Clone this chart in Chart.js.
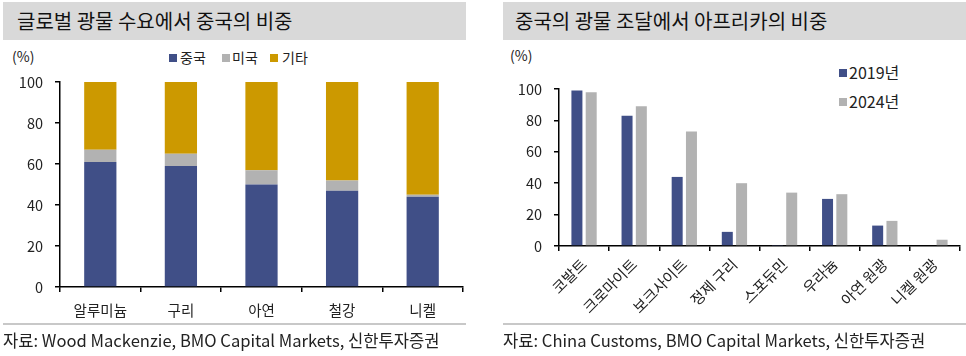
<!DOCTYPE html>
<html><head><meta charset="utf-8">
<script src="https://cdn.jsdelivr.net/npm/chart.js@4.4.1/dist/chart.umd.min.js"></script>
<style>
body{margin:0;width:966px;height:356px;position:relative;background:#fff;font-family:'Noto Sans CJK KR','Noto Sans',sans-serif;color:#222;overflow:hidden}
.tbar{position:absolute;top:2px;height:38px;background:#d9d9d9}
.ttl{position:absolute;font-size:20px;line-height:38px;top:2px;white-space:nowrap;color:#111}
.unit{position:absolute;font-size:14px;line-height:18px}
.fline{position:absolute;top:323px;height:2px;background:#c8c8c8}
.foot{position:absolute;top:329px;font-size:16.6px;line-height:22px;white-space:nowrap}
.leg{position:absolute;font-size:14px;line-height:18px;white-space:nowrap}
.sw{position:absolute;width:8px;height:8px}
.cw{position:absolute}
</style></head><body>
<div class="tbar" style="left:3px;width:463px"></div>
<div class="ttl" style="left:17px">글로벌 광물 수요에서 중국의 비중</div>
<div class="tbar" style="left:503px;width:463px"></div>
<div class="ttl" style="left:515px">중국의 광물 조달에서 아프리카의 비중</div>

<div class="unit" style="left:12px;top:47px">(%)</div>
<div class="unit" style="left:510px;top:46px">(%)</div>

<div class="sw" style="left:169px;top:54px;background:#404f87"></div>
<div class="leg" style="left:180px;top:48px">중국</div>
<div class="sw" style="left:222px;top:54px;background:#b2b2b2"></div>
<div class="leg" style="left:232px;top:48px">미국</div>
<div class="sw" style="left:270px;top:54px;background:#cc9900"></div>
<div class="leg" style="left:282px;top:48px">기타</div>

<div class="sw" style="left:839px;top:69px;background:#404f87"></div>
<div class="leg" style="left:849px;top:63px;font-size:16px">2019년</div>
<div class="sw" style="left:839px;top:98px;background:#b2b2b2"></div>
<div class="leg" style="left:849px;top:92px;font-size:16px">2024년</div>

<div class="cw" style="left:0;top:44px;width:480px;height:280px"><canvas id="c1" width="480" height="280"></canvas></div>
<div class="cw" style="left:490px;top:44px;width:476px;height:280px"><canvas id="c2" width="476" height="280"></canvas></div>

<div class="fline" style="left:3px;width:463px"></div>
<div class="foot" style="left:3px">자료: Wood Mackenzie, BMO Capital Markets, 신한투자증권</div>
<div class="fline" style="left:503px;width:463px"></div>
<div class="foot" style="left:503px">자료: China Customs, BMO Capital Markets, 신한투자증권</div>

<script>
const leftCategories = ['알루미늄','구리','아연','철강','니켈'];
const chinaShare = [61,59,50,47,44];
const usShare = [6,6,7,5,1];
const otherShare = [33,35,43,48,55];

const rightCategories = ['코발트','크로마이트','보크사이트','정제 구리','스포듀민','우라늄','아연 원광','니켈 원광'];
const share2019 = [99,83,44,9,0.3,30,13,0];
const share2024 = [98,89,73,40,34,33,16,4];

const yTicks = [0,20,40,60,80,100];

const NAVY='#404f87', GREY='#b2b2b2', GOLD='#cc9900';
Chart.defaults.font.family="'Noto Sans CJK KR','Noto Sans',sans-serif";
Chart.defaults.color='#222';
Chart.defaults.animation=false;

function yScale(w, stacked){
  return {stacked:stacked,min:0,max:100,
    afterBuildTicks:s=>{s.ticks=yTicks.map(v=>({value:v}));},
    ticks:{color:'#222',font:{size:14.5},padding:12},
    grid:{drawOnChartArea:false,tickLength:5,color:'#000',lineWidth:1.5},
    border:{color:'#000',width:1.5},
    afterFit:s=>{s.width=w;}};
}
function xScale(h, stacked, rot, pad, fs){
  return {stacked:stacked,
    ticks:{color:'#222',font:{size:fs},padding:pad,minRotation:rot,maxRotation:rot,autoSkip:false},
    grid:{offset:true,drawOnChartArea:false,tickLength:5,color:'#000',lineWidth:1.5},
    border:{color:'#000',width:1.5},
    afterFit:s=>{s.height=h;}};
}

new Chart(document.getElementById('c1'),{
  type:'bar',
  data:{labels:leftCategories,datasets:[
    {label:'중국',data:chinaShare,backgroundColor:NAVY},
    {label:'미국',data:usShare,backgroundColor:GREY},
    {label:'기타',data:otherShare,backgroundColor:GOLD}
  ]},
  options:{responsive:false,
    layout:{padding:{left:0,right:17,top:38,bottom:2}},
    datasets:{bar:{categoryPercentage:0.8,barPercentage:0.5}},
    plugins:{legend:{display:false},tooltip:{enabled:false}},
    scales:{x:xScale(35,true,0,10,14.5),y:yScale(60,true)}
  }
});

new Chart(document.getElementById('c2'),{
  type:'bar',
  data:{labels:rightCategories,datasets:[
    {label:'2019년',data:share2019,backgroundColor:NAVY},
    {label:'2024년',data:share2024,backgroundColor:GREY}
  ]},
  options:{responsive:false,
    layout:{padding:{left:0,right:6,top:45,bottom:8}},
    datasets:{bar:{categoryPercentage:0.57,barPercentage:0.77}},
    plugins:{legend:{display:false},tooltip:{enabled:false}},
    scales:{x:xScale(70,false,45,4,15),y:yScale(69,false)}
  }
});
</script>
</body></html>
